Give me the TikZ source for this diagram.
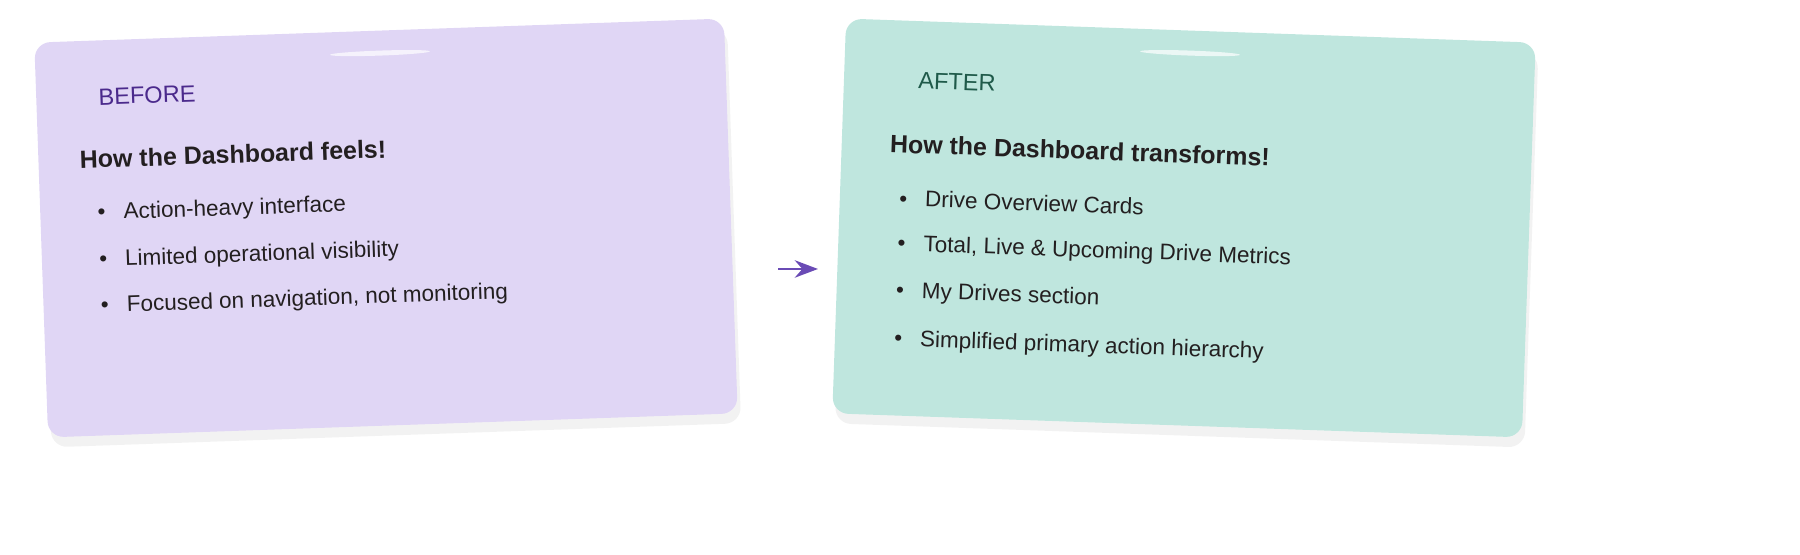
\documentclass[tikz,border=0pt]{standalone}
\usepackage{fontspec}
\setmainfont{Liberation Sans}
\usetikzlibrary{arrows.meta, positioning, shapes.geometric}
\definecolor{beforefill}{HTML}{E0D6F5}
\definecolor{afterfill}{HTML}{BFE6DE}
\definecolor{beforeink}{HTML}{4B2A8C}
\definecolor{afterink}{HTML}{1F5A4A}
\definecolor{bodyink}{HTML}{231F20}
\definecolor{arrowink}{HTML}{6A4BB5}
\begin{document}
\begin{tikzpicture}[
        card/.style={rectangle, transform shape, rounded corners=0.16cm, minimum width=6.9cm, minimum height=3.95cm},
        cardshadow/.style={card, fill=black, opacity=0.05},
        shine/.style={ellipse, transform shape, fill=white, opacity=0.7, minimum width=1cm, minimum height=0.05cm, inner sep=0pt},
        tag/.style={anchor=west, transform shape, font=\fontsize{6.7}{8}\selectfont},
        heading/.style={anchor=west, transform shape, text=bodyink, font=\bfseries\fontsize{7.1}{8}\selectfont},
        item/.style={anchor=west, transform shape, text=bodyink, font=\fontsize{6.4}{7}\selectfont},
        arrow/.style={-Stealth, thick, arrowink}]
    \useasboundingbox (0,0) rectangle (18,5.55);

    % Before card
    \begin{scope}[shift={(3.86,3.27)}, rotate=2]
        \node[cardshadow] (beforeshadow) at (0.03,-0.1) {};
        \node[card, fill=beforefill] (before) {};
        \node[shine] (beforeshine) at (0,1.75) {};
        \node[tag, text=beforeink] (beforetag) at (-2.95,1.41) {BEFORE};
        \node[heading] (beforehead) at (-3.16,0.79) {How the Dashboard feels!};
        \node[item] (b1) at (-3.0,0.24) {\textbullet\hspace{0.8em}Action-heavy interface};
        \node[item] (b2) at (-3.0,-0.23) {\textbullet\hspace{0.8em}Limited operational visibility};
        \node[item] (b3) at (-3.0,-0.69) {\textbullet\hspace{0.8em}Focused on navigation, not monitoring};
    \end{scope}

    % After card
    \begin{scope}[shift={(11.84,3.27)}, rotate=-2]
        \node[cardshadow] (aftershadow) at (0.03,-0.1) {};
        \node[card, fill=afterfill] (after) {};
        \node[shine] (aftershine) at (0,1.75) {};
        \node[tag, text=afterink] (aftertag) at (-2.83,1.38) {AFTER};
        \node[heading] (afterhead) at (-3.09,0.74) {How the Dashboard transforms!};
        \node[item] (a1) at (-2.98,0.20) {\textbullet\hspace{0.8em}Drive Overview Cards};
        \node[item] (a2) at (-2.98,-0.27) {\textbullet\hspace{0.8em}Total, Live \& Upcoming Drive Metrics};
        \node[item] (a3) at (-2.98,-0.74) {\textbullet\hspace{0.8em}My Drives section};
        \node[item] (a4) at (-2.98,-1.22) {\textbullet\hspace{0.8em}Simplified primary action hierarchy};
    \end{scope}

    % Transition
    \coordinate (from) at (7.78,2.86);
    \coordinate (to) at (8.18,2.86);
    \draw[arrow] (from) -- (to);
\end{tikzpicture}
\end{document}
